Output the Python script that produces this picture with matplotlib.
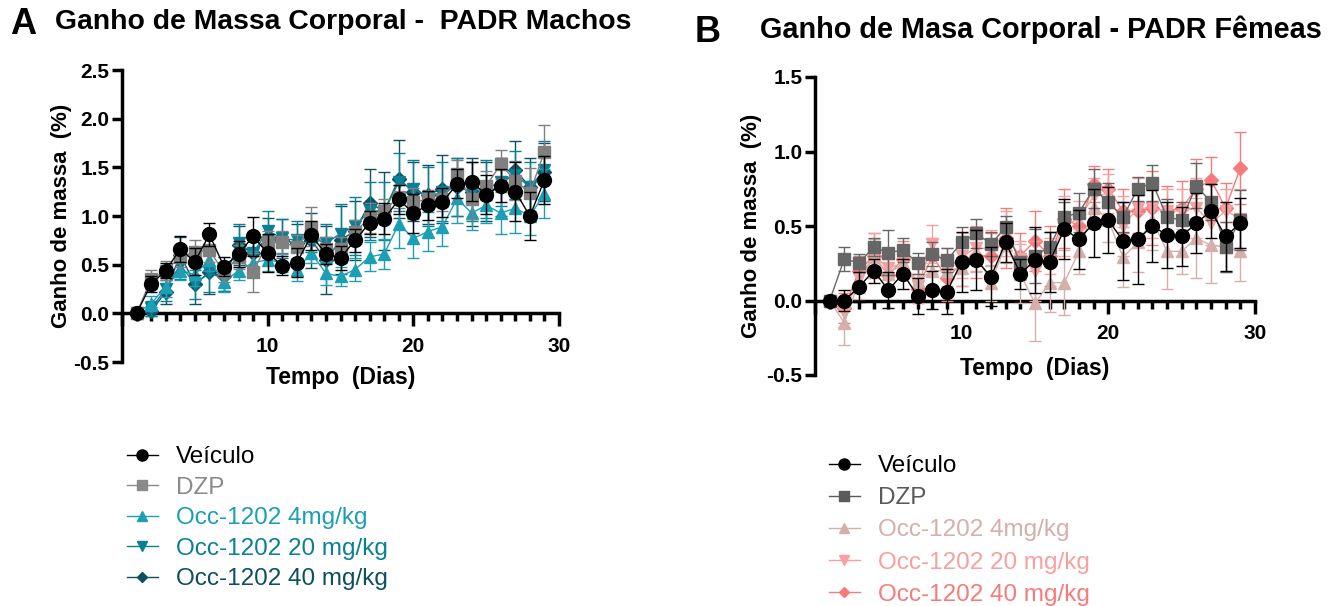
import numpy as np
import matplotlib
matplotlib.use('Agg')
import matplotlib.pyplot as plt
import matplotlib.font_manager as fm
from matplotlib.lines import Line2D
from matplotlib.ticker import MultipleLocator

plt.rcParams['font.family'] = ['Liberation Sans', 'DejaVu Sans']

names = {f.name for f in fm.fontManager.ttflist}
narrow = 'Liberation Sans Narrow' in names
title_family = ['Liberation Sans Narrow', 'Liberation Sans'] if narrow else ['Liberation Sans']
title_size = 24 if narrow else 20.4

dias = np.arange(1, 30)
grupos = ['Veículo', 'DZP', 'Occ-1202 4mg/kg', 'Occ-1202 20 mg/kg', 'Occ-1202 40 mg/kg']

# ---- A: machos ----
veh_A = [0, 0.30, 0.44, 0.66, 0.53, 0.81, 0.48, 0.61, 0.79, 0.62, 0.49, 0.52, 0.80, 0.61, 0.57,
         0.75, 0.93, 0.97, 1.17, 1.03, 1.11, 1.14, 1.33, 1.35, 1.22, 1.31, 1.25, 1.00, 1.37]
veh_A_err = [0, 0.08, 0.08, 0.13, 0.14, 0.12, 0.10, 0.13, 0.20, 0.20, 0.10, 0.15, 0.15, 0.10, 0.12,
             0.12, 0.12, 0.16, 0.15, 0.20, 0.15, 0.15, 0.15, 0.20, 0.20, 0.17, 0.30, 0.25, 0.25]
dzp_A = [0, 0.35, 0.44, 0.58, 0.63, 0.65, 0.42, 0.58, 0.42, 0.73, 0.73, 0.68, 0.89, 0.66, 0.66,
         0.84, 0.98, 1.05, 1.20, 1.14, 1.17, 1.17, 1.43, 1.17, 1.31, 1.53, 1.36, 1.24, 1.66]
dzp_A_err = [0, 0.10, 0.10, 0.10, 0.12, 0.12, 0.10, 0.12, 0.20, 0.12, 0.12, 0.12, 0.20, 0.12, 0.12,
             0.12, 0.15, 0.12, 0.12, 0.15, 0.10, 0.12, 0.15, 0.20, 0.15, 0.15, 0.20, 0.25, 0.28]
occ4_A = [0, 0.10, 0.27, 0.44, 0.40, 0.55, 0.32, 0.44, 0.52, 0.55, 0.52, 0.45, 0.62, 0.41, 0.38,
          0.45, 0.58, 0.61, 0.92, 0.77, 0.84, 0.89, 1.18, 1.03, 1.11, 1.03, 1.08, 1.00, 1.23]
occ4_A_err = [0, 0.08, 0.10, 0.10, 0.12, 0.12, 0.10, 0.10, 0.12, 0.12, 0.10, 0.12, 0.10, 0.12, 0.10,
              0.12, 0.15, 0.15, 0.25, 0.20, 0.20, 0.20, 0.25, 0.17, 0.18, 0.22, 0.25, 0.20, 0.25]
occ20_A = [0, 0.05, 0.25, 0.50, 0.30, 0.42, 0.35, 0.72, 0.62, 0.85, 0.77, 0.75, 0.78, 0.72, 0.82,
           0.90, 1.05, 1.05, 1.35, 1.28, 1.20, 1.25, 1.30, 1.25, 1.28, 1.35, 1.42, 1.30, 1.47]
occ20_A_err = [0, 0.08, 0.12, 0.15, 0.15, 0.20, 0.12, 0.20, 0.20, 0.20, 0.20, 0.20, 0.15, 0.20, 0.30,
               0.30, 0.30, 0.30, 0.30, 0.30, 0.30, 0.30, 0.30, 0.30, 0.30, 0.25, 0.25, 0.25, 0.30]
occ40_A = [0, 0.02, 0.22, 0.60, 0.30, 0.42, 0.38, 0.70, 0.62, 0.78, 0.75, 0.72, 0.75, 0.55, 0.75,
           0.85, 1.13, 1.05, 1.38, 1.25, 1.22, 1.28, 1.30, 1.25, 1.25, 1.30, 1.47, 1.30, 1.45]
occ40_A_err = [0, 0.05, 0.12, 0.18, 0.20, 0.22, 0.15, 0.20, 0.20, 0.20, 0.22, 0.20, 0.28, 0.35, 0.35,
               0.30, 0.35, 0.40, 0.40, 0.30, 0.30, 0.35, 0.30, 0.35, 0.30, 0.30, 0.30, 0.30, 0.30]

# ---- B: femeas ----
veh_B = [0, 0.00, 0.09, 0.20, 0.07, 0.18, 0.03, 0.07, 0.06, 0.26, 0.27, 0.16, 0.39, 0.18, 0.27,
         0.26, 0.48, 0.41, 0.52, 0.54, 0.40, 0.41, 0.50, 0.44, 0.43, 0.52, 0.60, 0.43, 0.52]
veh_B_err = [0, 0.07, 0.10, 0.08, 0.12, 0.10, 0.12, 0.13, 0.15, 0.20, 0.20, 0.20, 0.13, 0.10, 0.22,
             0.20, 0.20, 0.20, 0.23, 0.22, 0.26, 0.30, 0.24, 0.22, 0.20, 0.20, 0.18, 0.23, 0.17]
dzp_B = [0, 0.28, 0.25, 0.36, 0.32, 0.34, 0.25, 0.31, 0.27, 0.39, 0.45, 0.38, 0.49, 0.25, 0.30,
         0.36, 0.56, 0.59, 0.75, 0.66, 0.56, 0.75, 0.79, 0.56, 0.54, 0.77, 0.66, 0.36, 0.54]
dzp_B_err = [0, 0.08, 0.06, 0.06, 0.15, 0.08, 0.07, 0.08, 0.08, 0.10, 0.10, 0.08, 0.08, 0.05, 0.18,
             0.10, 0.10, 0.13, 0.13, 0.13, 0.10, 0.08, 0.12, 0.12, 0.12, 0.15, 0.12, 0.17, 0.20]
occ4_B = [0, -0.15, 0.13, 0.29, 0.18, 0.25, 0.13, 0.20, 0.20, 0.22, 0.31, 0.12, 0.37, 0.18, -0.02,
          0.12, 0.12, 0.33, 0.63, 0.54, 0.29, 0.39, 0.54, 0.33, 0.33, 0.42, 0.37, 0.36, 0.33]
occ4_B_err = [0, 0.15, 0.12, 0.12, 0.10, 0.10, 0.10, 0.10, 0.10, 0.12, 0.12, 0.12, 0.12, 0.20, 0.25,
              0.20, 0.22, 0.15, 0.15, 0.15, 0.20, 0.20, 0.20, 0.25, 0.15, 0.27, 0.25, 0.17, 0.20]
occ20_B = [0, -0.08, 0.15, 0.30, 0.22, 0.25, 0.10, 0.38, 0.20, 0.30, 0.35, 0.35, 0.45, 0.28, 0.20,
           0.30, 0.50, 0.55, 0.70, 0.72, 0.50, 0.62, 0.62, 0.60, 0.60, 0.62, 0.52, 0.60, 0.55]
occ20_B_err = [0, 0.10, 0.10, 0.15, 0.12, 0.10, 0.12, 0.13, 0.15, 0.15, 0.15, 0.12, 0.15, 0.12, 0.20,
               0.12, 0.20, 0.12, 0.12, 0.13, 0.20, 0.20, 0.20, 0.15, 0.15, 0.20, 0.15, 0.15, 0.20]
occ40_B = [0, -0.05, 0.20, 0.30, 0.17, 0.28, 0.08, 0.30, 0.15, 0.25, 0.30, 0.30, 0.42, 0.30, 0.40,
           0.30, 0.55, 0.50, 0.78, 0.75, 0.60, 0.60, 0.62, 0.60, 0.62, 0.75, 0.81, 0.62, 0.89]
occ40_B_err = [0, 0.10, 0.10, 0.15, 0.12, 0.12, 0.10, 0.12, 0.15, 0.15, 0.15, 0.15, 0.20, 0.15, 0.20,
               0.20, 0.20, 0.12, 0.12, 0.13, 0.15, 0.15, 0.25, 0.17, 0.18, 0.20, 0.15, 0.17, 0.24]

cores_A = ['#000000', '#808080', '#1c9fb5', '#0b7f96', '#0e5264']
cores_B = ['#000000', '#666666', '#d6aeab', '#f7a0a0', '#f77b7b']
marcadores = ['o', 's', '^', 'v', 'D']
tam = [10, 9, 9, 9, 7]


def painel(ax, series, erros, cores, ymax):
    # draw last group first so Veiculo ends on top
    for i in range(4, -1, -1):
        ax.errorbar(dias, series[i], yerr=erros[i], color=cores[i], marker=marcadores[i],
                    ms=tam[i], mec=cores[i], lw=1, elinewidth=1, capsize=4.5, capthick=1,
                    zorder=3 + (4 - i))
    ax.set_xlim(0, 30)
    ax.set_ylim(-0.5, ymax)
    ax.spines['top'].set_visible(False)
    ax.spines['right'].set_visible(False)
    ax.spines['bottom'].set_position(('data', 0))
    ax.spines['left'].set_linewidth(2.5)
    ax.spines['bottom'].set_linewidth(2.5)
    ax.xaxis.set_major_locator(MultipleLocator(10))
    ax.xaxis.set_minor_locator(MultipleLocator(1))
    ax.yaxis.set_major_locator(MultipleLocator(0.5))
    ax.tick_params(axis='x', which='major', length=9, width=2.5, pad=8, labelsize=15)
    ax.tick_params(axis='x', which='minor', length=6, width=2.5)
    ax.tick_params(axis='y', length=7, width=2.5, pad=2, labelsize=15)
    ax.xaxis.set_major_formatter(plt.FuncFormatter(lambda v, p: '%d' % v if v > 0 else ''))
    ax.yaxis.set_major_formatter(plt.FuncFormatter(lambda v, p: '%.1f' % v))
    for t in ax.get_xticklabels() + ax.get_yticklabels():
        t.set_fontweight('bold')
    ax.set_ylabel('Ganho de massa  (%)', fontsize=16, fontweight='bold')
    ax.set_xlabel('Tempo  (Dias)', fontsize=16.5, fontweight='bold')


fig = plt.figure(figsize=(13.4, 6.06), dpi=100)
axA = fig.add_axes([122 / 1340, 1 - 362 / 606, 437 / 1340, 292 / 606])
axB = fig.add_axes([815 / 1340, 1 - 375 / 606, 440 / 1340, 298 / 606])

painel(axA, [veh_A, dzp_A, occ4_A, occ20_A, occ40_A],
       [veh_A_err, dzp_A_err, occ4_A_err, occ20_A_err, occ40_A_err], cores_A, 2.5)
painel(axB, [veh_B, dzp_B, occ4_B, occ20_B, occ40_B],
       [veh_B_err, dzp_B_err, occ4_B_err, occ20_B_err, occ40_B_err], cores_B, 1.5)

axA.yaxis.set_label_coords(-0.114, 0.5)
axA.xaxis.set_label_coords(0.5, -0.014)
axB.yaxis.set_label_coords(-0.12, 0.5)
axB.xaxis.set_label_coords(0.5, 0.06)

# titles
fig.text(10 / 1340, 1 - 25 / 606, 'A', fontsize=26, fontweight='bold', va='center')
fig.text(55 / 1340, 1 - 22 / 606, 'Ganho de Massa Corporal -  PADR Machos', family=title_family,
         fontsize=title_size, fontweight='bold', va='center')
fig.text(695 / 1340, 1 - 33 / 606, 'B', fontsize=26, fontweight='bold', va='center')
fig.text(760 / 1340, 1 - 30 / 606, 'Ganho de Masa Corporal - PADR Fêmeas', family=title_family,
         fontsize=title_size + 0.4, fontweight='bold', va='center')


def legenda(ax, cores, x, y, spacing):
    hs = [Line2D([], [], color=cores[i], marker=marcadores[i], ms=tam[i] * 0.8, lw=1)
          for i in range(5)]
    leg = ax.legend(hs, grupos, loc='upper left', bbox_to_anchor=(x / 1340, 1 - y / 606),
                    bbox_transform=fig.transFigure, frameon=False, borderpad=0, borderaxespad=0,
                    handlelength=1.27, handletextpad=0.75, labelspacing=spacing, fontsize=17.5)
    for t, c in zip(leg.get_texts(), cores):
        t.set_color(c)


legenda(axA, ['#000000', '#8a8a8a', '#1c9fb5', '#0b7f96', '#0e4f60'], 127, 446, 0.35)
legenda(axB, ['#000000', '#5a5a5a', '#d6aeab', '#f7a0a0', '#f77b7b'], 829, 455, 0.42)

fig.savefig('out.png', dpi=100)
